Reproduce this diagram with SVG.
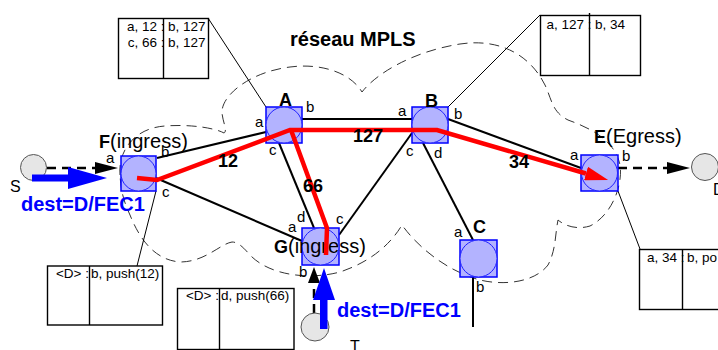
<svg xmlns="http://www.w3.org/2000/svg" width="718" height="350" viewBox="0 0 718 350">
<style>
text{font-family:"Liberation Sans",Arial,sans-serif;fill:#000}
.cloud{fill:none;stroke:#333;stroke-width:1;stroke-dasharray:10 6}
.sq{fill:#b3b3ff;stroke:#0000ff;stroke-width:1.5}
.ci{fill:#b3b3ff;stroke:#2020ff;stroke-width:1}
.host{fill:#e6e6e6;stroke:#555;stroke-width:1}
.tbl{fill:#fff;stroke:#000;stroke-width:1.4}
.div{stroke:#000;stroke-width:1.4}
.call{stroke:#000;stroke-width:1;fill:none}
.link{stroke:#000;stroke-width:2;fill:none}
.dash{stroke:#000;stroke-width:2.5;fill:none;stroke-dasharray:9 6}
.red{stroke:#ff0000;stroke-width:4.5;fill:none;stroke-linejoin:miter}
.blue{fill:#0000ff}
.nl{font-size:18px;font-weight:bold}
.pl{font-size:15px}
.ll{font-size:18px;font-weight:bold}
.tt{font-size:13.5px}
.bt{font-size:20px;font-weight:bold;fill:#0000ff}
.hl{font-size:16px}
</style>
<defs>
<marker id="ah" markerUnits="userSpaceOnUse" viewBox="0 0 23 12" markerWidth="23" markerHeight="12" refX="0" refY="6" orient="auto"><path d="M0,0 L23,6 L0,12 z" fill="#000"/></marker>
<marker id="ah2" markerUnits="userSpaceOnUse" viewBox="0 0 16 12" markerWidth="16" markerHeight="12" refX="0" refY="6" orient="auto"><path d="M0,0 L16,6 L0,12 z" fill="#000"/></marker>
<marker id="rh" markerUnits="userSpaceOnUse" viewBox="0 0 23 14" markerWidth="23" markerHeight="14" refX="0" refY="7" orient="auto"><path d="M0,0 L23,7 L0,14 z" fill="#ff0000"/></marker>
</defs>

<path class="cloud" d="M120,175 C118,150 135,128 165,126 C190,124 215,128 224,133 C228,131 222,120 222,112 C222,95 250,72 290,67 C320,63 350,72 362,92 C375,75 410,52 460,44 C500,38 530,55 545,85 C552,100 552,112 568,120 C590,128 615,140 620,165 C623,185 612,215 590,226 C577,230 565,226 558,220 C555,235 556,250 548,265 C535,282 505,286 480,280 C450,272 420,250 402,225 C390,245 370,262 340,272 C310,280 270,276 250,255 C243,247 238,242 232,242 C220,244 205,262 180,262 C155,260 140,240 130,215 C123,200 121,190 120,175 Z"/>

<text x="290" y="46" style="font-size:20px;font-weight:bold">réseau MPLS</text>

<g id="tables">
<g id="table-A">
<line class="call" x1="208" y1="18" x2="266" y2="107"/>
<rect class="tbl" x="118.5" y="18.5" width="90" height="60"/>
<line class="div" x1="163.5" y1="18.5" x2="163.5" y2="78.5"/>
<text class="tt" x="164.5" y="31" text-anchor="end">a, 12 :</text>
<text class="tt" x="168" y="31">b, 127</text>
<text class="tt" x="164.5" y="47" text-anchor="end">c, 66 :</text>
<text class="tt" x="168" y="47">b, 127</text>
</g>
<g id="table-B">
<line class="call" x1="540" y1="15" x2="448" y2="107"/>
<rect class="tbl" x="540.5" y="15.5" width="100" height="60"/>
<line class="div" x1="589.5" y1="13" x2="589.5" y2="75.5"/>
<text class="tt" x="591.5" y="28.5" text-anchor="end">a, 127 :</text>
<text class="tt" x="595" y="28.5">b, 34</text>
</g>
<g id="table-F">
<line class="call" x1="156" y1="191" x2="137" y2="266"/>
<rect class="tbl" x="47.5" y="266" width="115" height="59"/>
<line class="div" x1="89.5" y1="266" x2="89.5" y2="325"/>
<text class="tt" x="89" y="277.5" text-anchor="end">&lt;D&gt; :</text>
<text class="tt" x="91" y="277.5">b, push(12)</text>
</g>
<g id="table-G">
<rect class="tbl" x="177.5" y="288.5" width="116.5" height="61"/>
<line class="div" x1="219.5" y1="288.5" x2="219.5" y2="349.5"/>
<text class="tt" x="219" y="299.5" text-anchor="end">&lt;D&gt; :</text>
<text class="tt" x="221" y="299.5">d, push(66)</text>
</g>
<g id="table-E">
<line class="call" x1="618" y1="191" x2="640" y2="249"/>
<rect class="tbl" x="639.5" y="249.5" width="100" height="60"/>
<line class="div" x1="682.5" y1="249.5" x2="682.5" y2="309.5"/>
<text class="tt" x="684.5" y="262" text-anchor="end">a, 34 :</text>
<text class="tt" x="687" y="262">b, po</text>
</g>
</g>

<g id="connectors">
<line class="link" x1="157" y1="158" x2="266" y2="132"/>
<line class="link" x1="156" y1="178" x2="302" y2="241"/>
<line class="link" x1="302" y1="119" x2="412" y2="119"/>
<line class="link" x1="279" y1="143" x2="314" y2="228"/>
<line class="link" x1="412" y1="133" x2="339" y2="235"/>
<line class="link" x1="423" y1="143" x2="473" y2="240"/>
<line class="link" x1="448" y1="119" x2="581" y2="168"/>
<line class="link" x1="473" y1="277" x2="473" y2="327"/>
<path class="dash" d="M47,168 L95,168" marker-end="url(#ah)"/>
<path class="dash" d="M618,168 L667,168" marker-end="url(#ah)"/>
<path class="dash" d="M314,313 L314,283" marker-end="url(#ah2)"/>
</g>

<g id="node-S"><circle class="host" cx="33.5" cy="167.5" r="13"/><text class="hl" x="10" y="192">S</text></g>
<g id="node-D"><circle class="host" cx="705" cy="167" r="13.5"/><text class="hl" x="713" y="195">D</text></g>
<g id="node-T"><circle class="host" cx="315" cy="327" r="14"/><text class="hl" x="350" y="352">T</text></g>

<g id="node-A"><rect class="sq" x="266" y="107" width="36" height="36"/><circle class="ci" cx="284" cy="125" r="18"/>
<text class="nl" x="279" y="106">A</text><text class="pl" x="255" y="127">a</text><text class="pl" x="306" y="112">b</text><text class="pl" x="269" y="155">c</text></g>
<g id="node-B"><rect class="sq" x="412" y="107" width="36" height="36"/><circle class="ci" cx="430" cy="125" r="18"/>
<text class="nl" x="425" y="107">B</text><text class="pl" x="398" y="116">a</text><text class="pl" x="454" y="119">b</text><text class="pl" x="406" y="156">c</text><text class="pl" x="434" y="158">d</text></g>
<g id="node-C"><rect class="sq" x="460" y="240" width="37" height="37"/><circle class="ci" cx="478.5" cy="258.5" r="18.5"/>
<text class="nl" x="473" y="233">C</text><text class="pl" x="454" y="237">a</text><text class="pl" x="476" y="292">b</text></g>
<g id="node-F"><rect class="sq" x="121" y="156" width="35" height="35"/><circle class="ci" cx="138.5" cy="173.5" r="17.5"/>
<text x="99" y="148"><tspan style="font-size:18px;font-weight:bold">F</tspan><tspan style="font-size:20px">(ingress)</tspan></text>
<text class="pl" x="106" y="163">a</text><text class="pl" x="161" y="157">b</text><text class="pl" x="162" y="197">c</text></g>
<g id="node-G"><rect class="sq" x="302" y="228" width="37" height="37"/><circle class="ci" cx="320.5" cy="246.5" r="18.5"/>
<text x="274" y="253"><tspan style="font-size:18px;font-weight:bold">G</tspan><tspan style="font-size:20px">(ingress)</tspan></text>
<text class="pl" x="288" y="232">a</text><text class="pl" x="297" y="222">d</text><text class="pl" x="336" y="224">c</text><text class="pl" x="299" y="277">b</text></g>
<g id="node-E"><rect class="sq" x="581" y="155" width="37" height="36"/><circle class="ci" cx="599.5" cy="173" r="18"/>
<text x="594" y="143"><tspan style="font-size:18px;font-weight:bold">E</tspan><tspan style="font-size:20px">(Egress)</tspan></text>
<text class="pl" x="570" y="160">a</text><text class="pl" x="622" y="161">b</text></g>

<g id="lsp">
<polyline class="red" points="137,178 157,180 290,130 437,130 586,173.5" marker-end="url(#rh)"/>
<polyline class="red" points="291,130 327,228 326,255"/>
<text class="ll" x="218" y="167">12</text>
<text class="ll" x="353" y="142">127</text>
<text class="ll" x="303" y="192">66</text>
<text class="ll" x="509" y="168">34</text>
</g>

<g id="flows">
<polygon class="blue" points="32,174.5 68,174.5 68,167 107,178 68,189 68,181.5 32,181.5"/>
<text class="bt" x="21" y="211">dest=D/FEC1</text>
<polygon class="blue" points="320,329 320,300 313,300 324,268 335,300 327.5,300 327.5,329"/>
<text class="bt" x="337" y="317">dest=D/FEC1</text>
</g>
</svg>
